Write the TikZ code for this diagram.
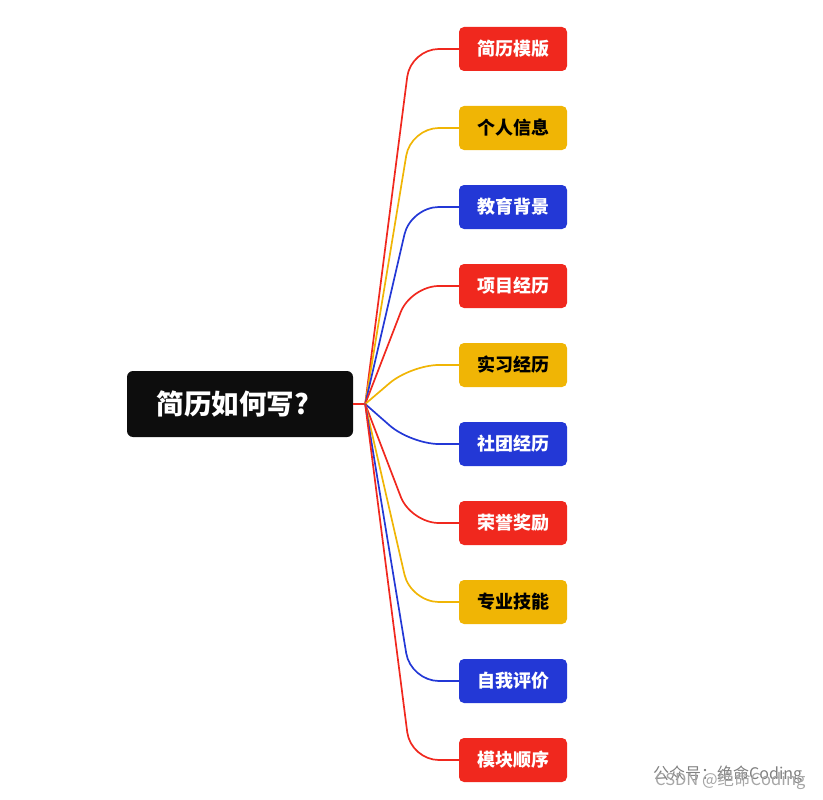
\documentclass[tikz,border=0pt]{standalone}
\usepackage{fontspec}
\newfontfamily\cjk{Noto Sans CJK SC}
\usepackage{tikz}
\usetikzlibrary{positioning}

\definecolor{mapred}{HTML}{F0281E}
\definecolor{mapyellow}{HTML}{F0B505}
\definecolor{mapblue}{HTML}{2338D6}
\definecolor{mapblack}{HTML}{0D0D0D}

\begin{document}
\begin{tikzpicture}[
  x=1pt,y=-1pt,
  font=\cjk\bfseries,
  node distance=34.6pt,
  topic/.style={fill=#1,rounded corners=5pt,minimum width=108pt,minimum height=44pt,
    inner sep=0pt,font=\cjk\bfseries\fontsize{18}{20}\selectfont,text=white},
  warmtopic/.style={topic=mapyellow,text=black},
  link/.style={draw=#1,line width=1.7pt,rounded corners=28pt},
]
\useasboundingbox (0,0) rectangle (823,800);

\node[fill=mapblack,rounded corners=6pt,minimum width=226pt,minimum height=66pt,
  text=white,font=\cjk\bfseries\fontsize{27.5}{30}\selectfont] (root) at (240,404) {简历如何写?\rule{14pt}{0pt}};
\coordinate (hub) at ([xshift=12pt]root.east);

\node[topic=mapred] (template) at (513,49) {简历模版};
\node[warmtopic,below=of template] (info) {个人信息};
\node[topic=mapblue,below=of info] (edu) {教育背景};
\node[topic=mapred,below=of edu] (project) {项目经历};
\node[warmtopic,below=of project] (intern) {实习经历};
\node[topic=mapblue,below=of intern] (club) {社团经历};
\node[topic=mapred,below=of club] (honor) {荣誉奖励};
\node[warmtopic,below=of honor] (skill) {专业技能};
\node[topic=mapblue,below=of skill] (self) {自我评价};
\node[topic=mapred,below=of self] (order) {模块顺序};

% branches fan out from the hub
\draw[link=mapred] (root.east) -- (hub);
\draw[link=mapred] (hub) -- ([xshift=-48pt]template.west) -- (template.west);
\draw[link=mapyellow] (hub) -- ([xshift=-48pt]info.west) -- (info.west);
\draw[link=mapblue] (hub) -- ([xshift=-48pt]edu.west) -- (edu.west);
\draw[link=mapred] (hub) -- ([xshift=-48pt]project.west) -- (project.west);
\draw[link=mapyellow] (hub) -- ([xshift=-48pt]intern.west) -- (intern.west);
\draw[link=mapblue] (hub) -- ([xshift=-48pt]club.west) -- (club.west);
\draw[link=mapred] (hub) -- ([xshift=-48pt]honor.west) -- (honor.west);
\draw[link=mapyellow] (hub) -- ([xshift=-48pt]skill.west) -- (skill.west);
\draw[link=mapblue] (hub) -- ([xshift=-48pt]self.west) -- (self.west);
\draw[link=mapred] (hub) -- ([xshift=-48pt]order.west) -- (order.west);

\node[anchor=west,inner sep=0pt,text=black!50,font=\cjk\fontsize{16}{18}\selectfont] (mark) at (653,775) {公众号：绝命Coding};
\node[anchor=west,inner sep=0pt,text=black!35,font=\cjk\fontsize{16.5}{18}\selectfont] (csdn) at (655,781) {CSDN @绝命Coding};
\end{tikzpicture}
\end{document}
